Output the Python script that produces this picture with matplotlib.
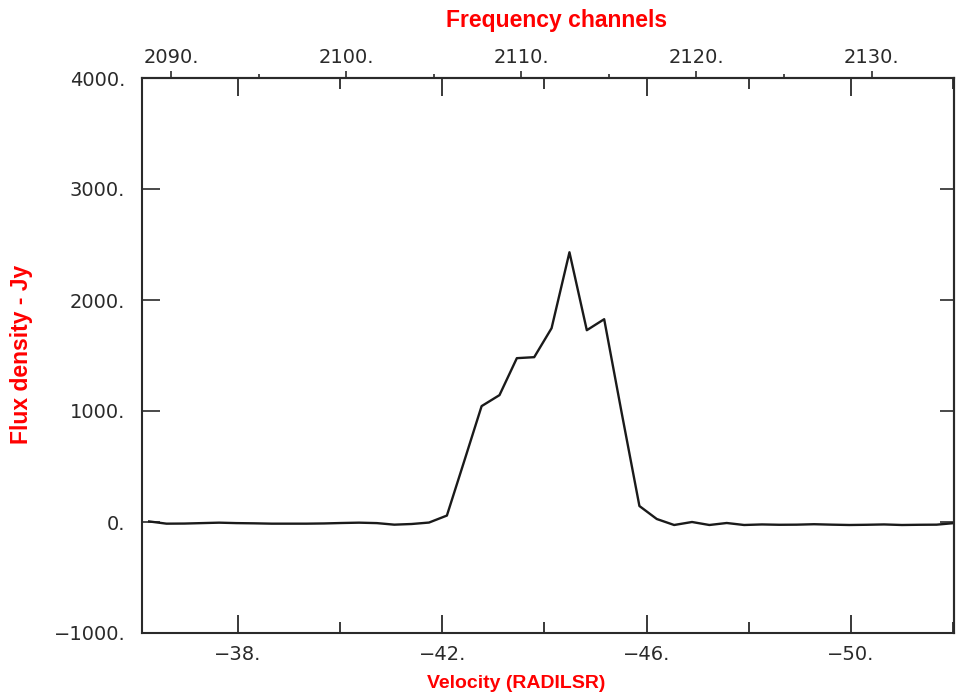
import matplotlib
matplotlib.use('Agg')
import matplotlib.pyplot as plt
from matplotlib.ticker import FixedLocator, FuncFormatter, NullFormatter

# velocity (km/s) of each spectral channel and flux density (Jy)
velocity = [-36.26, -36.60, -36.95, -37.29, -37.63, -37.97, -38.32, -38.66,
            -39.00, -39.34, -39.69, -40.03, -40.37, -40.72, -41.06, -41.40,
            -41.74, -42.09, -42.43, -42.77, -43.12, -43.46, -43.80, -44.14,
            -44.49, -44.83, -45.17, -45.51, -45.86, -46.20, -46.54, -46.89,
            -47.23, -47.57, -47.91, -48.26, -48.60, -48.94, -49.28, -49.63,
            -49.97, -50.31, -50.65, -51.00, -51.34, -51.68, -52.02]
flux = [5, -15, -14, -10, -6, -10, -12, -15,
        -15, -15, -13, -9, -6, -10, -24, -18,
        -5, 58, 549, 1044, 1143, 1476, 1485, 1746,
        2430, 1728, 1827, 990, 144, 27, -27, 0,
        -27, -9, -27, -22, -25, -24, -20, -24,
        -27, -25, -22, -27, -25, -24, -10]

vel_major = [-38, -42, -46, -50]
vel_minor = [-40, -44, -48, -52]
chan_major = [2090, 2100, 2110, 2120, 2130]
chan_minor = [2095, 2105, 2115, 2125]
flux_ticks = [-1000, 0, 1000, 2000, 3000, 4000]

# channel <-> velocity mapping taken from the two scales of the plot
def v2c(v):
    return 2093.806 - 2.9177 * (v + 38.0)

def c2v(c):
    return -38.0 - (c - 2093.806) / 2.9177

def same(y):
    return y

ink = '#2a2a2a'
dot_fmt = FuncFormatter(lambda x, pos: f'{x:.0f}.'.replace('-', '\u2212'))

fig = plt.figure(figsize=(9.59, 6.96), dpi=100)
ax = fig.add_axes([142 / 959, 1 - 633 / 696, (954 - 142) / 959, (633 - 78) / 696])

ax.plot(velocity, flux, color='#1a1a1a', lw=1.7)

ax.set_xlim(-36.12, -52.02)
ax.set_ylim(-1000, 4000)

for s in ax.spines.values():
    s.set_color(ink)
    s.set_linewidth(1.5)

ax.xaxis.set_major_locator(FixedLocator(vel_major))
ax.xaxis.set_minor_locator(FixedLocator(vel_minor))
ax.xaxis.set_major_formatter(dot_fmt)
ax.yaxis.set_major_locator(FixedLocator(flux_ticks))
ax.yaxis.set_major_formatter(dot_fmt)

ax.tick_params(axis='x', which='major', direction='in', length=13, width=1.3,
               color=ink, top=True, labelsize=14, labelcolor=ink, pad=9)
ax.tick_params(axis='x', which='minor', direction='in', length=8, width=1.3,
               color=ink, top=True)
ax.tick_params(axis='y', which='major', direction='in', length=13, width=1.2,
               color=ink, labelsize=14, labelcolor=ink, pad=12)

# short inward ticks on the right frame
rax = ax.secondary_yaxis('right', functions=(same, same))
rax.yaxis.set_major_locator(FixedLocator(flux_ticks))
rax.yaxis.set_major_formatter(NullFormatter())
rax.tick_params(direction='in', length=10, width=1.2, color=ink)
rax.spines['right'].set_color(ink)
rax.spines['right'].set_linewidth(1.5)

secax = ax.secondary_xaxis('top', functions=(v2c, c2v))
secax.xaxis.set_major_locator(FixedLocator(chan_major))
secax.xaxis.set_minor_locator(FixedLocator(chan_minor))
secax.xaxis.set_major_formatter(dot_fmt)
secax.tick_params(which='major', direction='out', length=5, width=1.2,
                  color=ink, labelsize=14, labelcolor=ink, pad=3)
secax.tick_params(which='minor', direction='out', length=3, width=1.2, color=ink)
secax.spines['top'].set_color(ink)
secax.spines['top'].set_linewidth(1.5)

fig.text(557 / 959, 1 - 20 / 696, 'Frequency channels', color='red',
         fontsize=16.5, fontweight='bold', family='Liberation Sans',
         ha='center', va='center')
fig.text(516 / 959, 1 - 684 / 696, 'Velocity (RADILSR)', color='red',
         fontsize=14, fontweight='bold', family='Liberation Sans',
         ha='center', va='center')
fig.text(22 / 959, 1 - 354 / 696, 'Flux density - Jy', color='red',
         fontsize=16.5, fontweight='bold', family='Liberation Sans',
         rotation=90, ha='center', va='center')

fig.savefig('out.png', dpi=100)
